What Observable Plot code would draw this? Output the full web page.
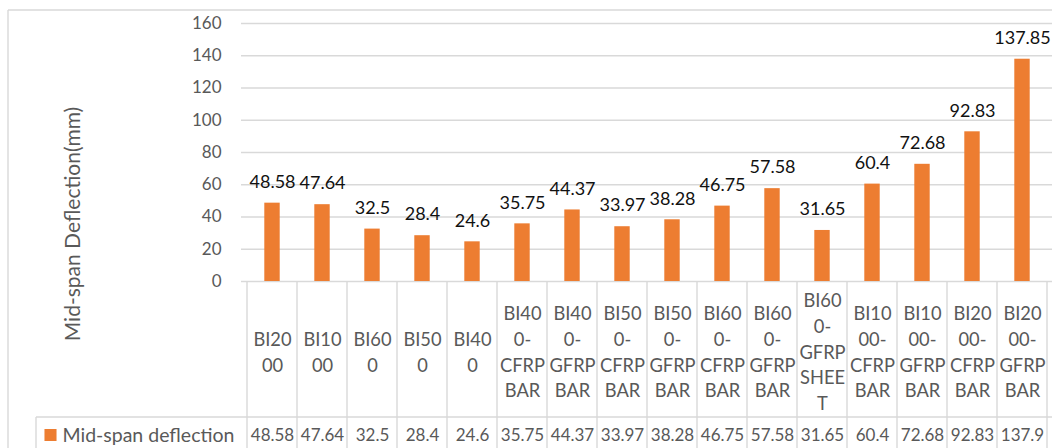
<!DOCTYPE html>
<html><head><meta charset="utf-8">
<script src="https://cdn.jsdelivr.net/npm/d3@7"></script>
<script src="https://cdn.jsdelivr.net/npm/@observablehq/plot@0.6"></script>
<style>html,body{margin:0;padding:0;background:#fff;overflow:hidden} svg{display:block}</style>
</head><body><div id="chart"></div>
<script>
const categories = ["BI2000","BI1000","BI600","BI500","BI400","BI400-CFRP BAR","BI400-GFRP BAR","BI500-CFRP BAR","BI500-GFRP BAR","BI600-CFRP BAR","BI600-GFRP BAR","BI600-GFRP SHEET","BI1000-CFRP BAR","BI1000-GFRP BAR","BI2000-CFRP BAR","BI2000-GFRP BAR"];
const headerLabels = ["BI20\n00","BI10\n00","BI60\n0","BI50\n0","BI40\n0","BI40\n0-\nCFRP\nBAR","BI40\n0-\nGFRP\nBAR","BI50\n0-\nCFRP\nBAR","BI50\n0-\nGFRP\nBAR","BI60\n0-\nCFRP\nBAR","BI60\n0-\nGFRP\nBAR","BI60\n0-\nGFRP\nSHEE\nT","BI10\n00-\nCFRP\nBAR","BI10\n00-\nGFRP\nBAR","BI20\n00-\nCFRP\nBAR","BI20\n00-\nGFRP\nBAR"];
const deflection = [48.58,47.64,32.5,28.4,24.6,35.75,44.37,33.97,38.28,46.75,57.58,31.65,60.4,72.68,92.83,137.85];
const tableValues = ["48.58","47.64","32.5","28.4","24.6","35.75","44.37","33.97","38.28","46.75","57.58","31.65","60.4","72.68","92.83","137.9"];
const yTicks = [0,20,40,60,80,100,120,140,160];
const seriesName = "Mid-span deflection";
const yTitle = "Mid-span Deflection(mm)";

const FONT = "Lato";
const FS = 17;
const GRID = "#d9d9d9";
const TXT = "#595959";
const BAR = "#ED7D31";

const data = categories.map((c, i) => ({cat: c, header: headerLabels[i], value: deflection[i], cell: tableValues[i]}));

const plot = Plot.plot({
  width: 1052, height: 448,
  marginLeft: 241, marginRight: 0, marginTop: 23, marginBottom: 167,
  style: {fontFamily: FONT, fontSize: FS + "px", color: TXT, background: "#fff", overflow: "visible"},
  x: {domain: categories, padding: 0, axis: null},
  y: {domain: [0, 160], axis: null},
  marks: [
    Plot.gridY(yTicks, {stroke: GRID, strokeOpacity: 1, strokeWidth: 1.4}),
    Plot.axisY(yTicks, {tickSize: 0, tickPadding: 20, label: null, fontSize: FS, fill: TXT}),
    Plot.barY(data, {x: "cat", y: "value", fill: BAR, insetLeft: 17.3, insetRight: 17.3}),
    Plot.text(data, {x: "cat", y: "value", text: d => String(d.value), dy: -21, fill: "#111", fontSize: 18}),
    Plot.text(data, {x: "cat", text: "header", frameAnchor: "bottom", dy: 69, lineHeight: 1.4, lineAnchor: "middle", fill: TXT, fontSize: 18.3}),
    Plot.text(data, {x: "cat", text: "cell", frameAnchor: "bottom", dy: 154, lineAnchor: "middle", fill: TXT, fontSize: FS}),
    Plot.text([yTitle], {frameAnchor: "left", dx: -168, dy: 71.5, rotate: -90, textAnchor: "middle", lineAnchor: "middle", fill: TXT, fontSize: 21}),
    Plot.text([seriesName], {frameAnchor: "bottom-left", dx: -179, dy: 154, textAnchor: "start", lineAnchor: "middle", fill: TXT, fontSize: 19.5}),
    Plot.dot([seriesName], {frameAnchor: "bottom-left", dx: -191, dy: 153.5, symbol: "square", r: 6.8, fill: BAR, stroke: null})
  ]
});

document.getElementById("chart").appendChild(plot);

// table grid and outer border, positioned from the plot's scales
const xs = plot.scale("x");
const ys = plot.scale("y");
const y0 = ys.apply(0);
const bw = xs.bandwidth;
const bounds = categories.map(c => xs.apply(c)).concat([xs.apply(categories[categories.length - 1]) + bw]);
const svg = d3.select(plot);
const g = svg.append("g").attr("stroke", GRID).attr("stroke-width", 1.4).attr("fill", "none");
const headerBottom = y0 + 136;
bounds.forEach(b => g.append("line").attr("x1", b).attr("x2", b).attr("y1", y0).attr("y2", 448));
g.append("line").attr("x1", 36).attr("x2", 1052).attr("y1", headerBottom).attr("y2", headerBottom);
g.append("line").attr("x1", 36).attr("x2", 36).attr("y1", headerBottom).attr("y2", 448);
// outer chart area border
g.append("line").attr("x1", 8).attr("x2", 8).attr("y1", 10).attr("y2", 448);
g.append("line").attr("x1", 8).attr("x2", 1052).attr("y1", 10).attr("y2", 10);
</script>
</body></html>
